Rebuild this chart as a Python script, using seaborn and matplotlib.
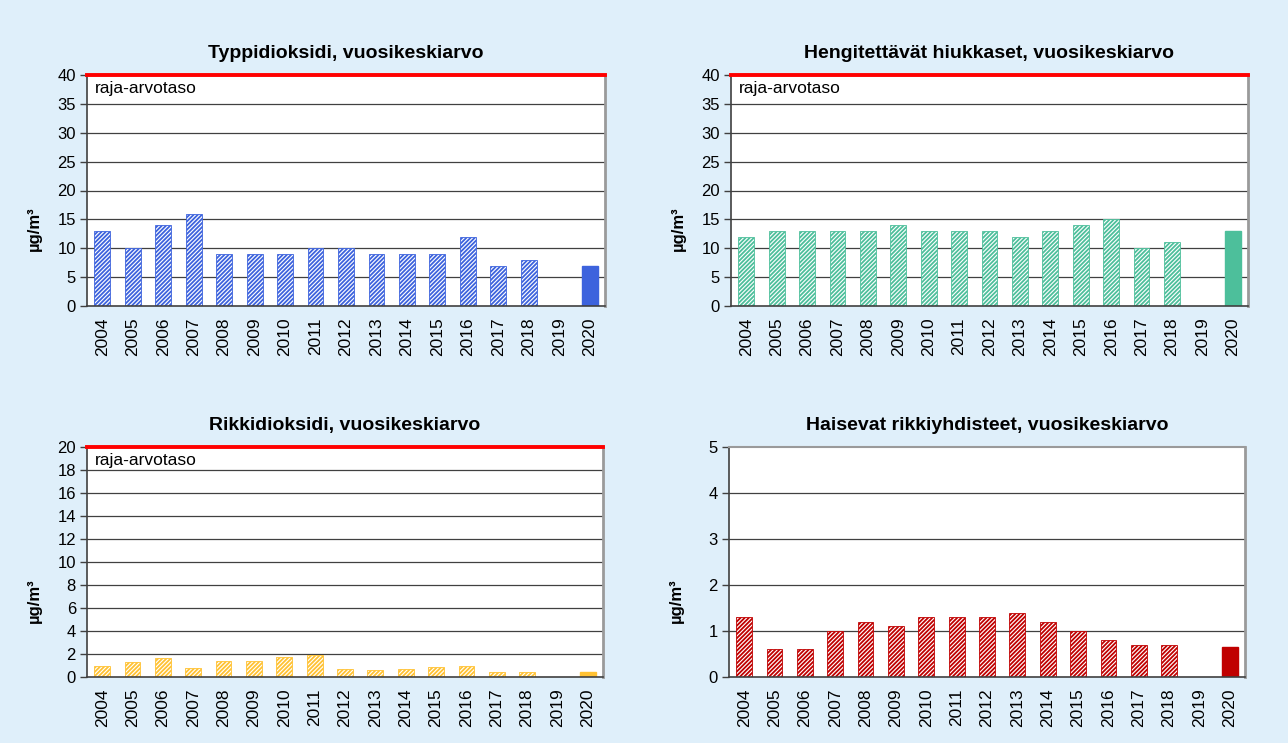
import matplotlib
matplotlib.use("Agg")
import matplotlib.pyplot as plt
import seaborn as sns
import numpy as np
import pandas as pd
from matplotlib.ticker import FixedLocator

years = [str(y) for y in range(2004, 2021)]

no2 = [13, 10, 14, 16, 9, 9, 9, 10, 10, 9, 9, 9, 12, 7, 8, np.nan, 7]
pm10 = [12, 13, 13, 13, 13, 14, 13, 13, 13, 12, 13, 14, 15, 10, 11, np.nan, 13]
so2 = [1.0, 1.3, 1.65, 0.8, 1.4, 1.4, 1.7, 1.9, 0.7, 0.6, 0.7, 0.85, 1.0, 0.45, 0.4, np.nan, 0.45]
trs = [1.3, 0.6, 0.6, 1.0, 1.2, 1.1, 1.3, 1.3, 1.3, 1.4, 1.2, 1.0, 0.8, 0.7, 0.7, np.nan, 0.65]

titles = ["Typpidioksidi, vuosikeskiarvo", "Hengitettävät hiukkaset, vuosikeskiarvo",
          "Rikkidioksidi, vuosikeskiarvo", "Haisevat rikkiyhdisteet, vuosikeskiarvo"]
colors = ["#3D63DD", "#4DBF9B", "#FFC233", "#C00000"]
ymaxes = [40, 40, 20, 5]
ysteps = [5, 5, 2, 1]
limit_flags = [True, True, True, False]
limit_label = "raja-arvotaso"
ylabel = "µg/m³"
series = [no2, pm10, so2, trs]

sns.set_theme(style="white")
plt.rcParams['font.family'] = ['Liberation Sans', 'DejaVu Sans']
plt.rcParams['hatch.linewidth'] = 1.3
plt.rcParams['text.color'] = 'black'
plt.rcParams['axes.labelcolor'] = 'black'
plt.rcParams['xtick.color'] = 'black'
plt.rcParams['ytick.color'] = 'black'

bg = "#DFEFFA"
fig = plt.figure(figsize=(12.88, 7.43), dpi=100, facecolor=bg)

W, H = 1288, 743
boxes = [(87, 75, 605, 306), (731, 75, 1248, 306), (87, 447, 603, 677), (729, 447, 1245, 677)]

for i in range(4):
    x0, y0, x1, y1 = boxes[i]
    ax = fig.add_axes([x0 / W, 1 - y1 / H, (x1 - x0) / W, (y1 - y0) / H])
    ax.set_facecolor("white")
    df = pd.DataFrame({"year": years, "value": series[i]})
    sns.barplot(data=df, x="year", y="value", order=years, color=colors[i],
                width=0.52, ax=ax, saturation=1, errorbar=None)
    for p in ax.patches:
        h = p.get_height()
        if h is None or np.isnan(h):
            continue
        idx = int(round(p.get_x() + p.get_width() / 2))
        if idx == len(years) - 1:
            p.set_facecolor(colors[i])
            p.set_edgecolor(colors[i])
            p.set_hatch(None)
        else:
            p.set_facecolor("white")
            p.set_edgecolor(colors[i])
            p.set_hatch("////////")
            p.set_linewidth(0.6)
    ax.set_xlim(-0.5, len(years) - 0.5)
    ax.set_ylim(0, ymaxes[i])
    yt = np.arange(0, ymaxes[i] + 0.001, ysteps[i])
    ax.set_yticks(yt)
    ax.set_yticklabels([f"{v:g}" for v in yt], fontsize=12, color="black")
    for v in yt[1:-1]:
        ax.axhline(v, color="#404040", lw=0.9, zorder=0)
    ax.set_xticks(range(len(years)))
    ax.set_xticklabels(years, rotation=90, fontsize=12.5, color="black")
    ax.xaxis.set_minor_locator(FixedLocator(np.arange(-0.5, len(years), 1.0)))
    ax.tick_params(axis="x", which="major", length=0, pad=8)
    ax.tick_params(axis="x", which="minor", length=5, width=1, color="#404040", direction="out")
    ax.tick_params(axis="y", length=5, width=1, color="#404040", direction="out", pad=3, left=True)
    ax.set_xlabel("")
    ax.set_ylabel(ylabel, fontsize=12, fontweight="bold", color="black")
    ax.yaxis.set_label_coords(-45 / (x1 - x0), 1 - 154 / (y1 - y0))
    ax.set_title(titles[i], fontsize=14, fontweight="bold", pad=12, color="black")
    for s in ["left", "bottom"]:
        ax.spines[s].set_visible(True)
        ax.spines[s].set_color("#404040")
        ax.spines[s].set_linewidth(1.2)
    ax.spines["right"].set_color("#9A9A9A")
    ax.spines["right"].set_linewidth(2)
    if limit_flags[i]:
        ax.spines["top"].set_color("#FF0000")
        ax.spines["top"].set_linewidth(2.8)
        ax.text(0.015, 0.975, limit_label, transform=ax.transAxes, fontsize=12.5,
                va="top", ha="left", color="black")
    else:
        ax.spines["top"].set_color("#9A9A9A")
        ax.spines["top"].set_linewidth(1.5)

fig.savefig("out.png", dpi=100, facecolor=bg)
